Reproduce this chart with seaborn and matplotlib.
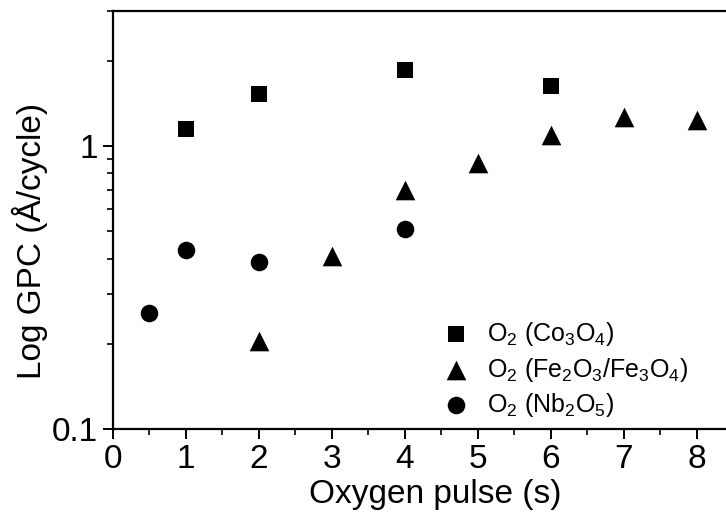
import numpy as np
import pandas as pd
import matplotlib
matplotlib.use("Agg")
import matplotlib.pyplot as plt
import seaborn as sns
from matplotlib.ticker import LogLocator, FixedLocator, NullFormatter, FuncFormatter

# Data
co_x = [1, 2, 4, 6]
co_y = [1.15, 1.53, 1.86, 1.63]
fe_x = [2, 3, 4, 5, 6, 7, 8]
fe_y = [0.205, 0.41, 0.70, 0.87, 1.09, 1.27, 1.24]
nb_x = [0.5, 1, 2, 4]
nb_y = [0.257, 0.43, 0.39, 0.51]

labels = [r"O$_2$ (Co$_3$O$_4$)", r"O$_2$ (Fe$_2$O$_3$/Fe$_3$O$_4$)", r"O$_2$ (Nb$_2$O$_5$)"]

df = pd.concat([
    pd.DataFrame({"x": co_x, "y": co_y, "s": labels[0]}),
    pd.DataFrame({"x": fe_x, "y": fe_y, "s": labels[1]}),
    pd.DataFrame({"x": nb_x, "y": nb_y, "s": labels[2]}),
])

sns.set_theme(style="ticks")
plt.rcParams["font.family"] = ["Liberation Sans", "DejaVu Sans"]
plt.rcParams["mathtext.fontset"] = "custom"
plt.rcParams["mathtext.rm"] = "Liberation Sans"
plt.rcParams["mathtext.it"] = "Liberation Sans:italic"
plt.rcParams["axes.labelcolor"] = "black"
plt.rcParams["text.color"] = "black"

fig = plt.figure(figsize=(7.26, 5.16), dpi=100)
ax = fig.add_axes([113/726, 87/516, 1 - 113/726, (429 - 11)/516])

markers = {labels[0]: "s", labels[1]: "^", labels[2]: "o"}
sizes_map = {labels[0]: 120, labels[1]: 200, labels[2]: 160}
for lab in labels:
    sub = df[df["s"] == lab]
    sns.scatterplot(data=sub, x="x", y="y", marker=markers[lab], s=sizes_map[lab],
                    color="black", edgecolor="black", linewidth=0, ax=ax, label=lab)

ax.set_yscale("log")
ax.set_xlim(0, 8.4)
ax.set_ylim(0.1, 3.0)

ax.xaxis.set_major_locator(FixedLocator([0, 1, 2, 3, 4, 5, 6, 7, 8]))
ax.xaxis.set_minor_locator(FixedLocator([0.5, 1.5, 2.5, 3.5, 4.5, 5.5, 6.5, 7.5]))
ax.yaxis.set_major_locator(FixedLocator([0.1, 1]))
ax.yaxis.set_major_formatter(FuncFormatter(lambda v, p: "0.1" if v < 0.5 else "1"))
ax.yaxis.set_minor_locator(LogLocator(base=10, subs=np.arange(2, 10)))
ax.yaxis.set_minor_formatter(NullFormatter())

for side in ["left", "bottom", "top"]:
    ax.spines[side].set_linewidth(1.6)
    ax.spines[side].set_color("black")
ax.spines["right"].set_visible(False)

ax.tick_params(axis="both", which="major", direction="out", length=7, width=1.4,
               labelsize=24, colors="black", pad=4)
ax.tick_params(axis="both", which="minor", direction="out", length=4, width=1.4)
ax.tick_params(top=False, right=False, which="both")

ax.set_xlabel("Oxygen pulse (s)", fontsize=24)
ax.set_ylabel("Log GPC (Å/cycle)", fontsize=24)
ax.xaxis.set_label_coords((435 - 113) / 613, (429 - 495) / 418)
ax.yaxis.set_label_coords((30 - 113) / 613, (429 - 241) / 418)
ax.xaxis.label.set_va("center")
ax.yaxis.label.set_va("center")

leg = ax.legend(loc="lower left", bbox_to_anchor=(0.512, 0.0), frameon=False,
                fontsize=18, handletextpad=0.5, labelspacing=0.3, borderaxespad=0,
                handlelength=1.5)

fig.savefig("out.png", dpi=100)
